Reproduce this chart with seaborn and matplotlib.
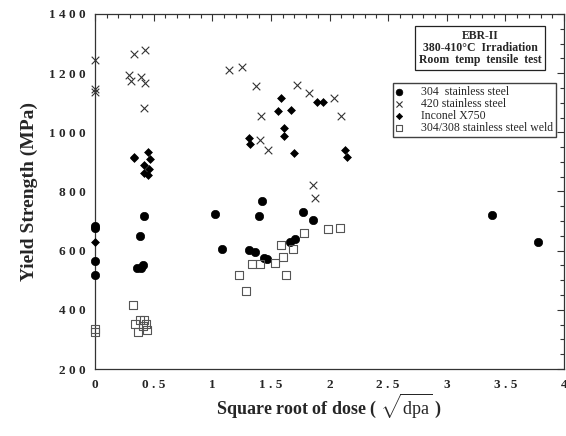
import numpy as np
import pandas as pd
import matplotlib
matplotlib.use("Agg")
import matplotlib.pyplot as plt
from matplotlib.ticker import MultipleLocator
import seaborn as sns

# ---- data ----
ss304_x = [0, 0, 0, 0, 0.418, 0.381, 0.355, 0.392, 0.407,
           1.026, 1.424, 1.401, 1.774, 1.857, 1.086, 1.316, 1.367, 1.441, 1.47,
           1.663, 1.706, 3.386, 3.778]
ss304_y = [683, 675, 565, 518, 718, 648, 540, 540, 552,
           725, 767, 717, 732, 705, 607, 601, 596, 574, 573,
           629, 639, 719, 628]

ss420_x = [0, 0, 0, 0.335, 0.43, 0.29, 0.307, 0.39, 0.43, 0.418,
           1.143, 1.254, 1.373, 1.723, 1.824, 1.413, 1.41, 1.478, 1.856, 1.873,
           2.04, 2.098]
ss420_y = [1243, 1145, 1135, 1264, 1277, 1194, 1173, 1188, 1168, 1083,
           1212, 1222, 1157, 1160, 1133, 1055, 973, 939, 821, 779,
           1117, 1055]

x750_x = [0, 0.335, 0.335, 0.452, 0.472, 0.415, 0.463, 0.415, 0.452,
          1.589, 1.561, 1.674, 1.612, 1.615, 1.313, 1.325, 1.697, 1.89, 1.942,
          2.13, 2.152]
x750_y = [629, 918, 912, 932, 911, 890, 877, 862, 857,
          1117, 1072, 1076, 1014, 987, 982, 961, 931, 1104, 1104,
          939, 918]

weld_x = [0, 0, 0.321, 0.341, 0.384, 0.42, 0.435, 0.407, 0.367, 0.443,
          1.228, 1.288, 1.336, 1.407, 1.535, 1.586, 1.603, 1.629, 1.689, 1.78,
          1.987, 2.092]
weld_y = [334, 324, 415, 353, 366, 366, 352, 345, 325, 331,
          517, 465, 554, 554, 558, 618, 580, 518, 605, 660,
          673, 677]

labels = ["304  stainless steel", "420 stainless steel", "Inconel X750",
          "304/308 stainless steel weld"]

x_ticks = [0, 0.5, 1, 1.5, 2, 2.5, 3, 3.5, 4]
x_ticklabels = ["0", "0 . 5", "1", "1 . 5", "2", "2 . 5", "3", "3 . 5", "4"]
y_ticks = [200, 400, 600, 800, 1000, 1200, 1400]
y_ticklabels = ["2 0 0", "4 0 0", "6 0 0", "8 0 0", "1 0 0 0", "1 2 0 0", "1 4 0 0"]

sns.set_style("white")
plt.rcParams["font.family"] = ["Liberation Serif", "DejaVu Serif"]
plt.rcParams["mathtext.fontset"] = "custom"
plt.rcParams["mathtext.rm"] = "Liberation Serif"

fig = plt.figure(figsize=(5.66, 4.36), dpi=100)
ax = fig.add_axes([95 / 566, 1 - 369 / 436, 469 / 566, 355 / 436])

df304 = pd.DataFrame({"x": ss304_x, "y": ss304_y})
df420 = pd.DataFrame({"x": ss420_x, "y": ss420_y})
df750 = pd.DataFrame({"x": x750_x, "y": x750_y})
dfw = pd.DataFrame({"x": weld_x, "y": weld_y})

sns.scatterplot(data=df304, x="x", y="y", ax=ax, marker="o", s=36,
                color="black", edgecolor="black", linewidth=0.5, label=labels[0],
                clip_on=False, zorder=3)
sns.scatterplot(data=df420, x="x", y="y", ax=ax, marker="x", s=30,
                color="#333333", linewidth=0.8, label=labels[1],
                clip_on=False, zorder=3)
sns.scatterplot(data=df750, x="x", y="y", ax=ax, marker="D", s=16,
                color="black", edgecolor="black", linewidth=0.5, label=labels[2],
                clip_on=False, zorder=3)
sns.scatterplot(data=dfw, x="x", y="y", ax=ax, marker="s", s=32,
                facecolor="none", edgecolor="#555555", linewidth=0.8, label=labels[3],
                clip_on=False, zorder=3)

ax.set_xlim(0, 4)
ax.set_ylim(200, 1400)
ax.set_xticks(x_ticks)
ax.set_xticklabels(x_ticklabels, fontweight="bold", fontsize=9.5)
ax.set_yticks(y_ticks)
ax.set_yticklabels(y_ticklabels, fontweight="bold", fontsize=9.5)
ax.xaxis.set_minor_locator(MultipleLocator(0.1))
ax.yaxis.set_minor_locator(MultipleLocator(50))
ax.tick_params(which="both", direction="in", top=True, right=True,
               color="#333333", width=0.8)
ax.tick_params(which="major", length=5, pad=7)
ax.tick_params(which="minor", length=3)
for sp in ax.spines.values():
    sp.set_visible(True)
    sp.set_color("#333333")
    sp.set_linewidth(0.9)

ax.set_xlabel(r"Square root of dose ( $\sqrt{\mathrm{dpa}}$ )",
              fontweight="bold", fontsize=13, labelpad=1)
ax.set_ylabel("Yield Strength (MPa)", fontweight="bold", fontsize=14, labelpad=8)

ax.text(0.821, 0.955, "EBR-II\n380-410°C  Irradiation\nRoom  temp  tensile  test",
        transform=ax.transAxes, ha="center", va="top", fontsize=8.5,
        fontweight="bold", linespacing=1.0,
        bbox=dict(boxstyle="square,pad=0.35", facecolor="white",
                  edgecolor="#222222", linewidth=0.9))

leg = ax.legend(loc="upper left", bbox_to_anchor=(0.635, 0.805),
                frameon=True, fancybox=False, fontsize=8.5, handletextpad=1.6,
                handlelength=0.5, borderpad=0.25, labelspacing=0.0,
                borderaxespad=0, markerscale=0.8)
leg.get_frame().set_edgecolor("#111111")
leg.get_frame().set_linewidth(1.0)

fig.savefig("out.png", dpi=100)
